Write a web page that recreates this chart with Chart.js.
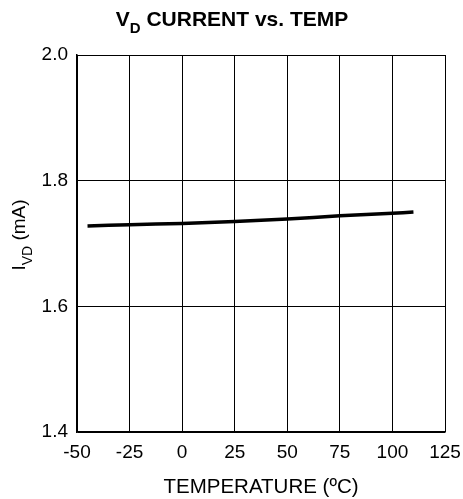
<!DOCTYPE html>
<html>
<head>
<meta charset="utf-8">
<script src="https://cdn.jsdelivr.net/npm/chart.js@4/dist/chart.umd.min.js"></script>
<style>
  html, body { margin: 0; padding: 0; background: #fff; }
  #wrap { width: 463px; height: 499px; }
</style>
</head>
<body>
<div id="wrap"><canvas id="chart" width="463" height="499"></canvas></div>
<script>
const temps = [-45, -25, 0, 25, 50, 75, 100, 110]
const current = [1.728, 1.730, 1.732, 1.735, 1.739, 1.744, 1.748, 1.750]

const FONT = "'Liberation Sans', Arial, sans-serif"

// draws the titles, which need subscripts
const titles = {
    id: 'titles',
    afterDraw(chart) {
        const ctx = chart.ctx
        const area = chart.chartArea
        const mid = (area.left + area.right) / 2
        ctx.save()
        ctx.fillStyle = '#000'
        ctx.textBaseline = 'alphabetic'

        // main title
        const big = 'bold 21px ' + FONT
        const small = 'bold 15px ' + FONT
        const parts = [['V', big, 0], ['D', small, 7], [' CURRENT vs. TEMP', big, 0]]
        let w = 0
        parts.forEach(p => { ctx.font = p[1]; w += ctx.measureText(p[0]).width })
        let x = 232 - w / 2
        parts.forEach(p => {
            ctx.font = p[1]
            ctx.textAlign = 'left'
            ctx.fillText(p[0], x, 26 + p[2])
            x += ctx.measureText(p[0]).width
        })

        // x axis title
        ctx.font = '20.5px ' + FONT
        ctx.textAlign = 'center'
        ctx.fillText('TEMPERATURE (\u00BAC)', mid, 493)

        // y axis title
        ctx.translate(25, 235)
        ctx.rotate(-Math.PI / 2)
        const yp = [['I', '19px ' + FONT, 0], ['VD', '14px ' + FONT, 7], [' (mA)', '19px ' + FONT, 0]]
        w = 0
        yp.forEach(p => { ctx.font = p[1]; w += ctx.measureText(p[0]).width })
        x = -w / 2
        yp.forEach(p => {
            ctx.font = p[1]
            ctx.textAlign = 'left'
            ctx.fillText(p[0], x, p[2])
            x += ctx.measureText(p[0]).width
        })
        ctx.restore()
    }
}

new Chart(document.getElementById('chart'), {
    type: 'line',
    data: {
        datasets: [{
            data: temps.map((t, i) => ({ x: t, y: current[i] })),
            borderColor: '#000',
            borderWidth: 3.5,
            pointRadius: 0,
            tension: 0.3,
            fill: false
        }]
    },
    options: {
        responsive: false,
        animation: false,
        layout: { padding: { top: 55, right: 18, left: 0, bottom: 0 } },
        plugins: { legend: { display: false }, tooltip: { enabled: false } },
        scales: {
            x: {
                type: 'linear',
                min: -50,
                max: 125,
                ticks: { stepSize: 25, color: '#000', font: { family: FONT, size: 19 }, padding: 9, maxRotation: 0 },
                grid: { color: '#000', lineWidth: 1, drawTicks: false },
                border: { color: '#000', width: 1.5 },
                afterFit(scale) {
                    scale.height = 67
                    scale.paddingLeft = 0
                    scale.paddingRight = 0
                }
            },
            y: {
                min: 1.4,
                max: 2.0,
                ticks: {
                    stepSize: 0.2,
                    color: '#000',
                    font: { family: FONT, size: 19 },
                    padding: 9,
                    callback: v => v.toFixed(1)
                },
                grid: { color: '#000', lineWidth: 1, drawTicks: false },
                border: { color: '#000', width: 1.5 },
                afterFit(scale) { scale.width = 77 }
            }
        }
    },
    plugins: [titles]
})
</script>
</body>
</html>
